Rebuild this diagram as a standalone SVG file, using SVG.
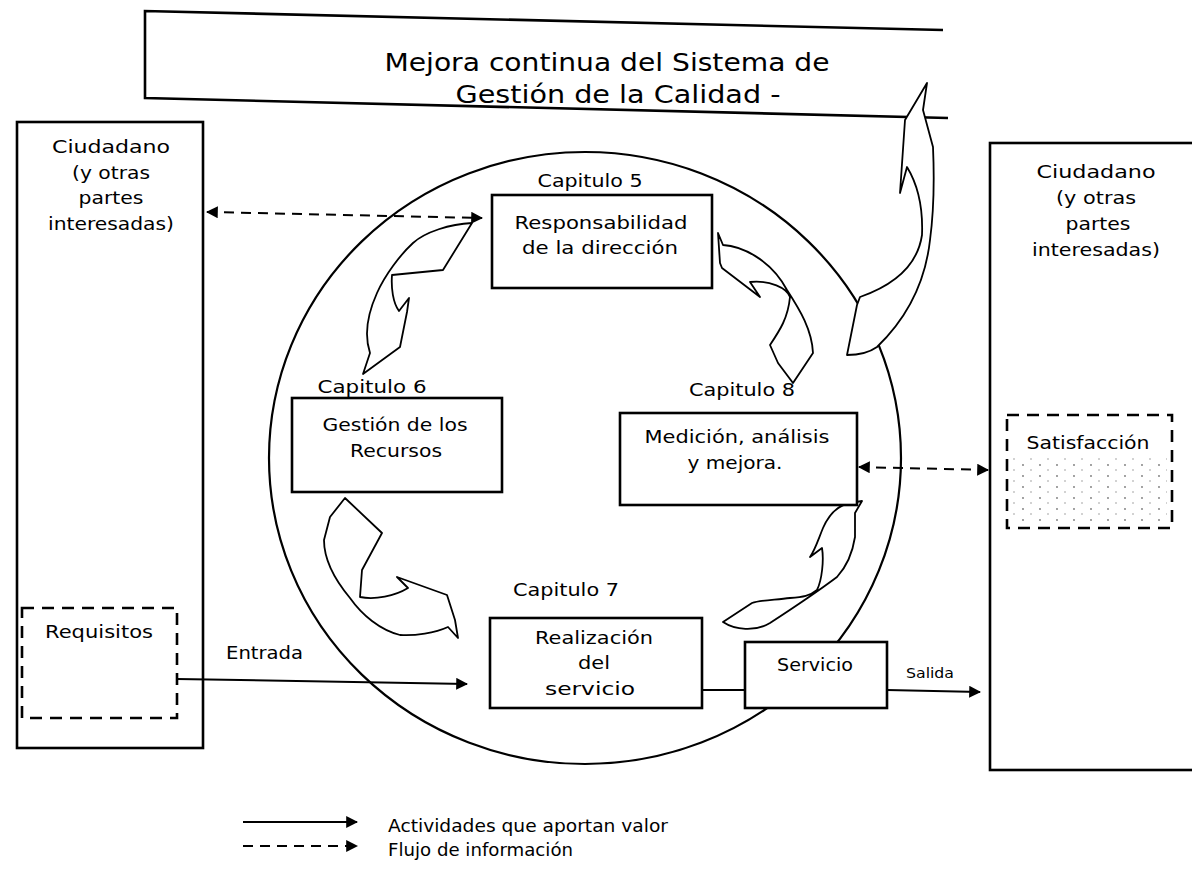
<svg xmlns="http://www.w3.org/2000/svg" width="1192" height="869" viewBox="0 0 1192 869">
<style>
.box{fill:#fff;stroke:#000;stroke-width:2.6}
.dbox{fill:none;stroke:#000;stroke-width:2.6;stroke-dasharray:12 8}
.t{font-family:"DejaVu Sans","Liberation Sans",sans-serif;font-size:18px;fill:#000}
.tt{font-family:"DejaVu Sans","Liberation Sans",sans-serif;font-size:25px;fill:#000}
.ts{font-family:"DejaVu Sans","Liberation Sans",sans-serif;font-size:14px;fill:#000}
.arr{fill:#fff;stroke:#000;stroke-width:1.8;stroke-linejoin:round}
.conn{fill:none;stroke:#000;stroke-width:2}
.dash{stroke-dasharray:10 7}
</style>
<defs>
<marker id="ah" viewBox="0 0 10 10" refX="9" refY="5" markerWidth="6" markerHeight="6" orient="auto-start-reverse"><path d="M0,0 L10,5 L0,10 z" fill="#000"/></marker>
<pattern id="dots" width="17" height="11" patternUnits="userSpaceOnUse"><circle cx="3" cy="3" r="0.9" fill="#777"/><circle cx="11" cy="8" r="0.8" fill="#999"/></pattern>
</defs>
<rect width="1192" height="869" fill="#fff"/>

<!-- process circle -->
<ellipse id="circle" cx="585" cy="458" rx="316" ry="306" fill="none" stroke="#000" stroke-width="2.2"/>

<!-- banner -->
<g id="banner">
<path d="M943,30 L145,11 L145,98 L948,118" fill="none" stroke="#000" stroke-width="2.6"/>
<text class="tt" x="607" y="71" text-anchor="middle" textLength="445" lengthAdjust="spacingAndGlyphs">Mejora continua del Sistema de</text>
<text class="tt" x="618" y="103" text-anchor="middle" textLength="325" lengthAdjust="spacingAndGlyphs">Gestión de la Calidad -</text>
</g>

<!-- left customer -->
<g id="cliente-izq">
<rect class="box" x="17" y="122" width="186" height="626"/>
<text class="t" x="111" y="153" text-anchor="middle" textLength="118" lengthAdjust="spacingAndGlyphs">Ciudadano</text>
<text class="t" x="111" y="179" text-anchor="middle" textLength="78" lengthAdjust="spacingAndGlyphs">(y otras</text>
<text class="t" x="111" y="204" text-anchor="middle" textLength="65" lengthAdjust="spacingAndGlyphs">partes</text>
<text class="t" x="111" y="230" text-anchor="middle" textLength="126" lengthAdjust="spacingAndGlyphs">interesadas)</text>
</g>
<g id="requisitos">
<rect class="dbox" x="22" y="608" width="155" height="110"/>
<text class="t" x="99" y="638" text-anchor="middle" textLength="108" lengthAdjust="spacingAndGlyphs">Requisitos</text>
</g>

<!-- right customer -->
<g id="cliente-der">
<rect class="box" x="990" y="143" width="220" height="627"/>
<text class="t" x="1096" y="178" text-anchor="middle" textLength="119" lengthAdjust="spacingAndGlyphs">Ciudadano</text>
<text class="t" x="1096" y="204" text-anchor="middle" textLength="80" lengthAdjust="spacingAndGlyphs">(y otras</text>
<text class="t" x="1098" y="230" text-anchor="middle" textLength="65" lengthAdjust="spacingAndGlyphs">partes</text>
<text class="t" x="1096" y="256" text-anchor="middle" textLength="128" lengthAdjust="spacingAndGlyphs">interesadas)</text>
</g>
<g id="satisfaccion">
<rect x="1012" y="455" width="155" height="68" fill="url(#dots)"/>
<rect class="dbox" x="1007" y="415" width="165" height="113"/>
<text class="t" x="1088" y="449" text-anchor="middle" textLength="123" lengthAdjust="spacingAndGlyphs">Satisfacción</text>
</g>

<!-- curved process arrows -->
<g id="flechas-ciclo">
<path class="arr" d="M472,223 C450,224 425,232 413,243 C400,255 385,275 377,293 C368,313 364,335 370,353 L363,374 L400,347 L407,312 L409,298 L399,311 C393,303 391,288 392,275 L443,270 Z"/>
<path class="arr" d="M718,233 L723,245 C740,246 770,258 787,290 C800,310 812,330 813,353 L793,383 L778,363 L770,345 C780,330 788,318 790,297 C787,288 770,280 750,282 L760,297 L722,268 L720,263 Z"/>
<path class="arr" d="M345,498 L382,533 L362,570 L360,597 C375,600 395,596 408,588 L397,577 L447,595 L455,620 L458,638 L448,627 C435,633 415,636 400,635 C380,630 362,615 350,598 C335,580 324,560 324,540 L330,517 Z"/>
<path class="arr" d="M723,622 C735,630 755,632 770,623 C790,610 813,595 837,577 C848,565 853,550 855,537 L855,513 L862,501 L850,503 C840,505 830,512 823,528 C818,540 815,550 810,557 L822,548 C824,560 822,580 817,590 C810,596 803,597 790,598 C775,600 760,600 752,603 Z"/>
<path class="arr" d="M857,305 L847,355 C860,355 870,352 877,347 C905,320 925,285 930,240 C934,210 934,170 933,147 L923,110 L927,83 L905,120 L900,193 L907,167 C918,185 923,210 922,235 C918,262 900,283 860,297 Z"/>
</g>

<!-- chapter labels -->
<text class="t" x="590" y="187" text-anchor="middle" textLength="105" lengthAdjust="spacingAndGlyphs">Capitulo 5</text>
<text class="t" x="372" y="393" text-anchor="middle" textLength="109" lengthAdjust="spacingAndGlyphs">Capitulo 6</text>
<text class="t" x="742" y="396" text-anchor="middle" textLength="106" lengthAdjust="spacingAndGlyphs">Capitulo 8</text>
<text class="t" x="566" y="596" text-anchor="middle" textLength="106" lengthAdjust="spacingAndGlyphs">Capitulo 7</text>

<!-- connectors -->
<g id="conectores">
<line class="conn dash" x1="207" y1="212" x2="482" y2="218" marker-start="url(#ah)" marker-end="url(#ah)"/>
<line class="conn dash" x1="859" y1="467" x2="988" y2="470" marker-start="url(#ah)" marker-end="url(#ah)"/>
<line class="conn" x1="177" y1="679" x2="467" y2="684" marker-end="url(#ah)"/>
<line class="conn" x1="702" y1="690" x2="745" y2="690"/>
<line class="conn" x1="887" y1="690" x2="980" y2="692" marker-end="url(#ah)"/>
</g>
<text class="t" x="226" y="659" font-size="17" textLength="77" lengthAdjust="spacingAndGlyphs">Entrada</text>
<text class="ts" x="906" y="678" textLength="48" lengthAdjust="spacingAndGlyphs">Salida</text>

<!-- process boxes -->
<g id="responsabilidad">
<rect class="box" x="492" y="195" width="220" height="93"/>
<text class="t" x="601" y="229" text-anchor="middle" textLength="173" lengthAdjust="spacingAndGlyphs">Responsabilidad</text>
<text class="t" x="600" y="254" text-anchor="middle" textLength="156" lengthAdjust="spacingAndGlyphs">de la dirección</text>
</g>
<g id="recursos">
<rect class="box" x="292" y="398" width="210" height="94"/>
<text class="t" x="395" y="431" text-anchor="middle" textLength="145" lengthAdjust="spacingAndGlyphs">Gestión de los</text>
<text class="t" x="396" y="457" text-anchor="middle" textLength="92" lengthAdjust="spacingAndGlyphs">Recursos</text>
</g>
<g id="medicion">
<rect class="box" x="620" y="413" width="237" height="92"/>
<text class="t" x="737" y="443" text-anchor="middle" textLength="185" lengthAdjust="spacingAndGlyphs">Medición, análisis</text>
<text class="t" x="735" y="469" text-anchor="middle" textLength="95" lengthAdjust="spacingAndGlyphs">y mejora.</text>
</g>
<g id="realizacion">
<rect class="box" x="490" y="618" width="212" height="90"/>
<text class="t" x="594" y="644" text-anchor="middle" textLength="118" lengthAdjust="spacingAndGlyphs">Realización</text>
<text class="t" x="594" y="669" text-anchor="middle" textLength="32" lengthAdjust="spacingAndGlyphs">del</text>
<text class="t" x="590" y="695" text-anchor="middle" textLength="90" lengthAdjust="spacingAndGlyphs">servicio</text>
</g>
<g id="servicio">
<rect class="box" x="745" y="642" width="142" height="66"/>
<text class="t" x="815" y="671" text-anchor="middle" textLength="76" lengthAdjust="spacingAndGlyphs">Servicio</text>
</g>

<!-- legend -->
<g id="leyenda">
<line class="conn" x1="243" y1="822" x2="357" y2="822" marker-end="url(#ah)"/>
<line class="conn dash" x1="243" y1="846" x2="357" y2="846" marker-end="url(#ah)"/>
<text class="t" x="388" y="832" font-size="16" textLength="280" lengthAdjust="spacingAndGlyphs">Actividades que aportan valor</text>
<text class="t" x="388" y="856" font-size="16" textLength="185" lengthAdjust="spacingAndGlyphs">Flujo de información</text>
</g>
</svg>
